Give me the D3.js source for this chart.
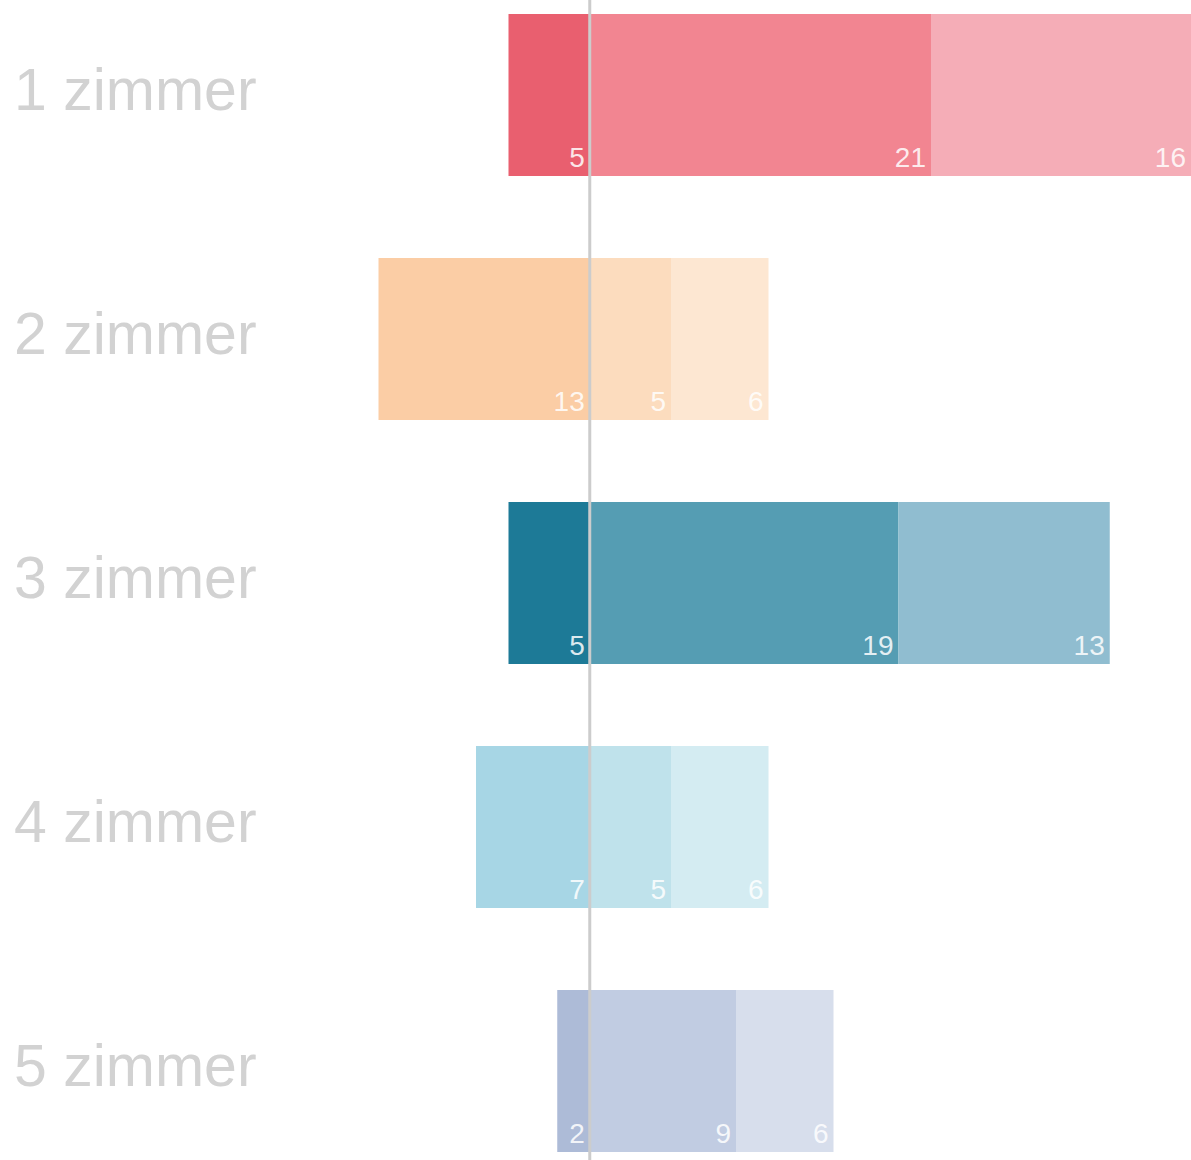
<!DOCTYPE html>
<html>
<head>
<meta charset="utf-8">
<script src="https://cdn.jsdelivr.net/npm/d3@7"></script>
<style>
  html, body { margin: 0; padding: 0; background: #fff; }
  svg { display: block; }
</style>
</head>
<body>
<svg id="chart" width="1191" height="1160"></svg>
<script>
const categories = ["1 zimmer", "2 zimmer", "3 zimmer", "4 zimmer", "5 zimmer"];
const negValues  = [5, 13, 5, 7, 2];
const pos1Values = [21, 5, 19, 5, 9];
const pos2Values = [16, 6, 13, 6, 6];
const rowColors = [
  ["#e95f6f", "#f28591", "#f5adb7"],
  ["#fbcda5", "#fcdcbe", "#fde7d2"],
  ["#1d7a97", "#559db3", "#90bdd0"],
  ["#a7d6e5", "#bfe2eb", "#d4ecf2"],
  ["#adbbd7", "#c1cce2", "#d7deec"]
];

const svg = d3.select("#chart");
const W = 1191, H = 1160;

const x = d3.scaleLinear().domain([-13, 37]).range([378.5, 1191]);
const y = d3.scaleBand().domain(categories).range([14, 1152])
  .paddingInner(82 / 244).paddingOuter(0);

const rows = categories.map((c, i) => ({
  cat: c,
  segs: [
    { x0: -negValues[i], x1: 0, v: negValues[i], color: rowColors[i][0] },
    { x0: 0, x1: pos1Values[i], v: pos1Values[i], color: rowColors[i][1] },
    { x0: pos1Values[i], x1: pos1Values[i] + pos2Values[i], v: pos2Values[i], color: rowColors[i][2] }
  ]
}));

const g = svg.selectAll("g.row").data(rows).join("g").attr("class", "row")
  .attr("transform", d => `translate(0,${y(d.cat)})`);

g.selectAll("rect").data(d => d.segs).join("rect")
  .attr("x", d => x(d.x0))
  .attr("width", d => x(d.x1) - x(d.x0))
  .attr("y", 0)
  .attr("height", y.bandwidth())
  .attr("fill", d => d.color);

g.selectAll("text.val").data(d => d.segs).join("text").attr("class", "val")
  .attr("x", d => x(d.x1) - 5)
  .attr("y", y.bandwidth() - 9)
  .attr("text-anchor", "end")
  .attr("font-family", "Liberation Sans, Arial, sans-serif")
  .attr("font-size", 28)
  .attr("fill", "rgba(255,255,255,0.85)")
  .text(d => d.v);

svg.selectAll("text.cat").data(categories).join("text").attr("class", "cat")
  .attr("x", 14)
  .attr("y", d => y(d) + 96)
  .attr("font-family", "Liberation Sans, Arial, sans-serif")
  .attr("font-size", 59)
  .attr("fill", "#d2d2d2")
  .text(d => d);

svg.append("line")
  .attr("x1", x(0)).attr("x2", x(0))
  .attr("y1", 0).attr("y2", H)
  .attr("stroke", "#cccccc")
  .attr("stroke-width", 3);
</script>
</body>
</html>
